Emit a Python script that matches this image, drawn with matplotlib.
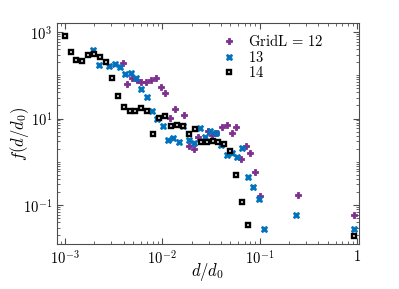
import matplotlib
matplotlib.use("Agg")
import matplotlib.pyplot as plt
from matplotlib.ticker import FixedLocator, LogLocator, NullFormatter, FixedFormatter

plt.rcParams['mathtext.fontset'] = 'cm'
plt.rcParams['font.family'] = 'serif'
plt.rcParams['font.serif'] = ['cmr10', 'DejaVu Serif']
plt.rcParams['axes.formatter.use_mathtext'] = True

# ---- data ----
x12 = [0.003913, 0.004330, 0.004839, 0.005445, 0.006072, 0.006835, 0.007638, 0.008596,
       0.009606, 0.01071, 0.01197, 0.01347, 0.01666, 0.01889, 0.02111, 0.02319, 0.02938,
       0.03253, 0.03575, 0.04063, 0.04572, 0.05145, 0.05737, 0.06412, 0.07215, 0.07989,
       0.08992, 0.1005, 0.2449, 0.9337]
y12 = [194.4, 63.6, 86.1, 77.4, 71.5, 71.5, 77.4, 86.1,
       53.4, 38.8, 10.5, 17.0, 12.2, 2.28, 2.01, 3.84, 5.06,
       4.09, 4.62, 6.27, 6.97, 4.70, 6.37, 1.14, 2.36, 1.60,
       0.581, 0.162, 0.168, 0.0581]

x13 = [0.001962, 0.002234, 0.002863, 0.003261, 0.003697, 0.004178, 0.004725, 0.005358,
       0.006101, 0.006900, 0.007875, 0.008861, 0.01007, 0.01150, 0.01294, 0.01470,
       0.01639, 0.01889, 0.02136, 0.02449, 0.02737, 0.03118, 0.03524, 0.03996, 0.04572,
       0.05145, 0.05875, 0.06644, 0.07564, 0.08577, 0.09813, 0.1104, 0.2336, 0.934]
y13 = [382, 170, 166, 179.5, 157, 108.3, 112.4, 87.1,
       48.5, 32.2, 14.7, 9.74, 6.61, 3.24, 3.49, 2.91,
       6.71, 3.19, 2.65, 5.94, 3.80, 5.14, 4.55, 2.44, 1.46,
       1.62, 1.27, 2.12, 0.4385, 0.262, 0.136, 0.0276, 0.0581, 0.0285]

x14 = [0.001, 0.001144, 0.001306, 0.001505, 0.001734, 0.001985, 0.002288, 0.002636,
       0.003017, 0.003499, 0.004006, 0.004616, 0.005270, 0.006072, 0.006998, 0.008063,
       0.009163, 0.01056, 0.01217, 0.01402, 0.01616, 0.01862, 0.02146, 0.02472, 0.02849,
       0.03283, 0.03767, 0.04289, 0.04943, 0.05695, 0.06520, 0.07512, 0.927]
y14 = [812, 338, 224, 213, 293, 305, 263, 207,
       84.7, 33.1, 18.7, 15.1, 14.9, 17.5, 15.1, 4.39,
       10.4, 11.7, 6.89, 7.15, 6.89, 4.32, 5.72, 2.82, 2.84,
       3.02, 2.84, 2.54, 1.82, 0.509, 0.115, 0.0342, 0.0193]

labels = [r'$\mathrm{GridL}\,=\,12$', r'$13$', r'$14$']
xticks = [1e-3, 1e-2, 1e-1, 1]
xticklabels = [r'$10^{-3}$', r'$10^{-2}$', r'$10^{-1}$', r'$1$']
yticks = [1e-1, 1e1, 1e3]
yticklabels = [r'$10^{-1}$', r'$10^{1}$', r'$10^{3}$']

fig = plt.figure(figsize=(3.99, 2.89), dpi=100)
ax = fig.add_axes([57/399, 1 - 244/289, 302/399, 221/289])

ax.plot(x12, y12, linestyle='none', marker='P', markersize=5,
        color='#7E2F8E', markeredgecolor='#7E2F8E', markeredgewidth=0.6, label=labels[0])
ax.plot(x13, y13, linestyle='none', marker='X', markersize=5,
        color='#0072BD', markeredgecolor='#0072BD', markeredgewidth=0.6, label=labels[1])
ax.plot(x14, y14, linestyle='none', marker='s', markersize=3.4,
        markerfacecolor='white', markeredgecolor='black', markeredgewidth=1.7,
        label=labels[2])

ax.set_xscale('log')
ax.set_yscale('log')
ax.set_xlim(10**-3.082, 10**0.0185)
ax.set_ylim(10**-1.898, 10**3.206)

ax.xaxis.set_major_locator(FixedLocator(xticks))
ax.xaxis.set_major_formatter(FixedFormatter(xticklabels))
ax.xaxis.set_minor_locator(LogLocator(base=10, subs=range(2, 10), numticks=20))
ax.xaxis.set_minor_formatter(NullFormatter())
ax.yaxis.set_major_locator(FixedLocator(yticks))
ax.yaxis.set_major_formatter(FixedFormatter(yticklabels))
ax.yaxis.set_minor_locator(LogLocator(base=10, subs=range(1, 10), numticks=20))
ax.yaxis.set_minor_formatter(NullFormatter())

for s in ax.spines.values():
    s.set_color('0.3')
    s.set_linewidth(0.8)
ax.tick_params(which='both', direction='in', top=True, right=True, color='0.3',
               labelsize=10.5)
ax.tick_params(which='major', length=4.5, width=0.8)
ax.tick_params(which='minor', length=2.5, width=0.6)

ax.set_xlabel(r'$d/d_0$', fontsize=12, labelpad=-4)
ax.set_ylabel(r'$f(d/d_0)$', fontsize=12, labelpad=-6)

ax.legend(loc='upper left', bbox_to_anchor=(0.52, 0.98), frameon=False,
          fontsize=10.5, handlelength=1.2, handletextpad=0.7, labelspacing=0.04,
          borderaxespad=0)

fig.savefig('out.png', dpi=100)
